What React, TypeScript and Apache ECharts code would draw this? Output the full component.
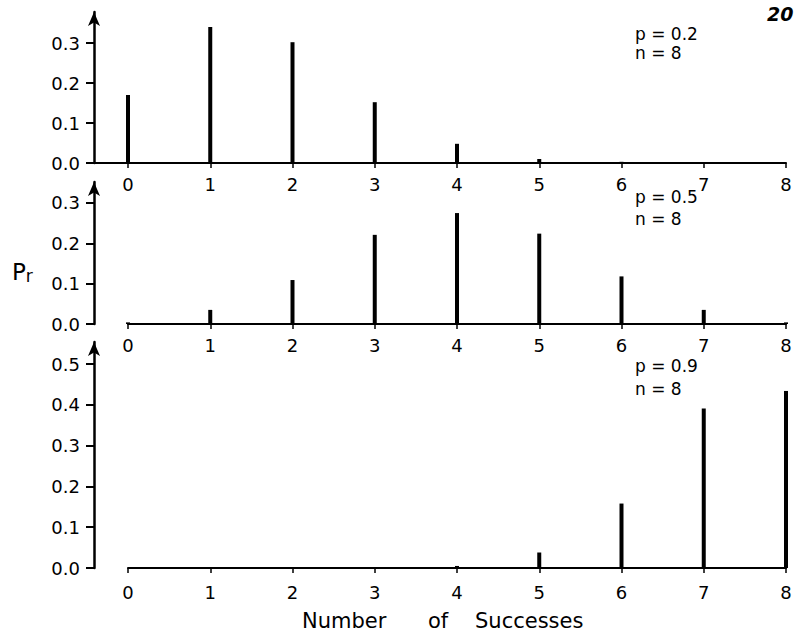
import React, { useEffect, useRef } from "react";
import * as echarts from "echarts";

const successes = [0, 1, 2, 3, 4, 5, 6, 7, 8];
const probsP02 = [0.17, 0.34, 0.302, 0.152, 0.048, 0.01, 0.003, 0, 0];
const probsP05 = [0.004, 0.035, 0.109, 0.221, 0.275, 0.224, 0.118, 0.035, 0.004];
const probsP09 = [0, 0, 0, 0, 0.005, 0.038, 0.158, 0.391, 0.434];
const yTicksSmall = [0, 0.1, 0.2, 0.3];
const yTicksLarge = [0, 0.1, 0.2, 0.3, 0.4, 0.5];
const panelLabels = [
  ["p = 0.2", "n = 8"],
  ["p = 0.5", "n = 8"],
  ["p = 0.9", "n = 8"],
];

const FONT = "DejaVu Sans";

export default function App() {
  const ref = useRef<HTMLDivElement>(null);
  useEffect(() => {
    document.body.style.margin = "0";
    const chart = echarts.init(ref.current!, null, { renderer: "svg" });

    const grids = [
      { left: 128, right: 9, top: 12, height: 151 },
      { left: 128, right: 9, top: 182, height: 142 },
      { left: 128, right: 9, top: 342, height: 226 },
    ];
    const maxes = [0.3775, 0.352, 0.554];
    const ticks = [yTicksSmall, yTicksSmall, yTicksLarge];
    const labelMargins = [12, 12, 15];
    const datasets = [probsP02, probsP05, probsP09];

    const xAxis = grids.map((_, i) => ({
      gridIndex: i,
      type: "value",
      min: 0,
      max: 8,
      interval: 1,
      axisLine: { show: true, onZero: false, lineStyle: { color: "#000", width: 2 } },
      axisTick: { show: true, length: 5, lineStyle: { color: "#000", width: 1.5 } },
      axisLabel: {
        color: "#000",
        fontSize: 18,
        fontFamily: FONT,
        margin: labelMargins[i],
      },
      splitLine: { show: false },
    }));

    const yAxis = grids.map((_, i) => ({
      gridIndex: i,
      type: "value",
      min: 0,
      max: maxes[i],
      offset: 34,
      axisLine: {
        show: true,
        onZero: false,
        lineStyle: { color: "#000", width: 2.5 },
        symbol: ["none", "arrow"],
        symbolSize: [9, 14],
      },
      axisTick: {
        show: true,
        length: 8,
        lineStyle: { color: "#000", width: 2 },
        customValues: ticks[i],
      },
      axisLabel: {
        color: "#000",
        fontSize: 18,
        fontFamily: FONT,
        margin: 14,
        customValues: ticks[i],
        formatter: (v: number) => v.toFixed(1),
      },
      splitLine: { show: false },
    }));

    const series = datasets.map((vals, i) => ({
      type: "bar",
      xAxisIndex: i,
      yAxisIndex: i,
      barWidth: 4,
      itemStyle: { color: "#000" },
      data: successes.map((s, j) => [s, vals[j]]),
    }));

    const labelYs = [
      [34, 53],
      [197, 219],
      [366, 389],
    ];
    const panelTexts: any[] = [];
    panelLabels.forEach((pair, i) => {
      pair.forEach((t, k) => {
        panelTexts.push({
          type: "text",
          x: 635,
          y: labelYs[i][k],
          style: {
            text: t,
            fill: "#000",
            font: `17px "${FONT}"`,
            verticalAlign: "middle",
            align: "left",
          },
        });
      });
    });

    chart.setOption({
      animation: false,
      backgroundColor: "#fff",
      grid: grids,
      xAxis,
      yAxis,
      series,
      graphic: [
        {
          type: "line",
          shape: { x1: 93, y1: 163, x2: 128, y2: 163 },
          style: { stroke: "#000", lineWidth: 2 },
        },
        ...panelTexts,
        {
          type: "text",
          x: 767,
          y: 14,
          style: {
            text: "20",
            fill: "#000",
            font: `italic bold 19px "${FONT}"`,
            verticalAlign: "middle",
          },
        },
        {
          type: "text",
          x: 12,
          y: 272,
          style: {
            text: "{a|P}{b|r}",
            rich: {
              a: { fontSize: 23, fontFamily: FONT, fill: "#000", verticalAlign: "bottom" },
              b: { fontSize: 17, fontFamily: FONT, fill: "#000", verticalAlign: "bottom", padding: [0, 0, -1, 0] },
            },
            verticalAlign: "middle",
          },
        },
        {
          type: "text",
          x: 302,
          y: 621,
          style: { text: "Number", fill: "#000", font: `21px "${FONT}"`, verticalAlign: "middle" },
        },
        {
          type: "text",
          x: 428,
          y: 621,
          style: { text: "of", fill: "#000", font: `21px "${FONT}"`, verticalAlign: "middle" },
        },
        {
          type: "text",
          x: 475,
          y: 621,
          style: { text: "Successes", fill: "#000", font: `21px "${FONT}"`, verticalAlign: "middle" },
        },
      ],
    });
    return () => chart.dispose();
  }, []);
  return <div ref={ref} style={{ width: 795, height: 637 }} />;
}
